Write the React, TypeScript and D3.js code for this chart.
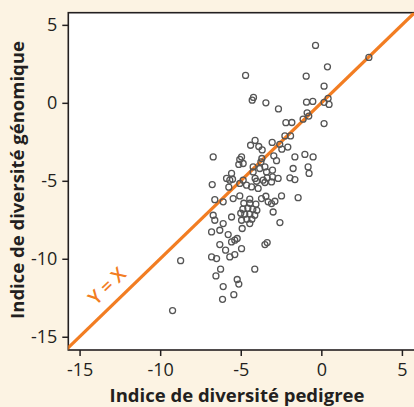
import React, { useEffect, useRef } from "react";
import * as d3 from "d3";

// pedigree diversity index (x) vs genomic diversity index (y)
const pedigree = [
  -0.36, 2.95, 0.38, -4.7, -0.94, 0.17, -4.21, -4.29, -3.44, -2.66, -0.92, -0.53, 0.17, 0.42, 0.48,
  -0.88, -0.78, -1.13, -2.2, -1.83, 0.17, -4.11, -4.39, -3.88, -3.67, -3.05, -2.58, -2.26, -1.91,
  -2.45, -2.08, -6.71, -4.95, -5.06, -5.12, -4.85, -3.69, -3.75, -2.95, -2.78, -1.64, -1.02, -0.51,
  -5.57, -5.88, -5.68, -5.51, -4.23, -4.23, -3.82, -3.5, -3.4, -3.03, -3.03, -1.75, -0.82, -0.76,
  -1.95, -1.64, -2.68, -3.09, -4.85, -5.06, -4.11, -4.02, -3.61, -3.36, -6.77, -5.74, -4.64, -4.33,
  -3.92, -3.5, -2.47, -1.44, -6.61, -6.09, -5.47, -5.06, -4.44, -3.71, -3.3, -2.88, -3.09, -2.99,
  -3.44, -4.81, -4.44, -4.06, -4.87, -4.56, -4.25, -4.0, -4.75, -4.44, -4.13, -4.62, -4.31, -5.0,
  -6.71, -6.61, -6.09, -5.57, -4.95, -4.91, -4.44, -2.57, -6.81, -6.3, -5.78, -5.57, -5.37, -5.22,
  -6.3, -5.94, -4.95, -3.5, -3.36, -6.81, -6.5, -5.68, -5.37, -8.73, -6.25, -6.54, -4.13, -5.22,
  -5.12, -6.09, -5.43, -6.13, -9.23,
];
const genomic = [
  3.68, 2.91, 2.31, 1.76, 1.71, 1.07, 0.35, 0.17, 0.0, -0.39, 0.04, 0.09, 0.03, 0.28, -0.1,
  -0.64, -0.85, -1.05, -1.27, -1.26, -1.33, -2.41, -2.72, -2.8, -3.02, -2.54, -2.66, -2.12, -2.12,
  -2.97, -2.84, -3.47, -3.47, -3.63, -3.95, -3.89, -3.57, -3.79, -3.4, -3.71, -3.47, -3.31, -3.47,
  -4.53, -4.85, -4.96, -4.9, -4.11, -4.43, -4.21, -4.11, -4.43, -4.32, -4.75, -4.21, -4.11, -4.53,
  -4.81, -4.92, -4.85, -5.07, -4.96, -5.17, -4.85, -5.03, -4.96, -4.81, -5.24, -5.41, -5.28, -5.39,
  -5.49, -5.11, -5.97, -6.08, -6.21, -6.35, -6.14, -5.97, -6.18, -6.14, -6.35, -6.31, -6.46, -7.0,
  -5.99, -6.44, -6.44, -6.5, -6.82, -6.76, -6.82, -6.89, -7.14, -7.14, -7.21, -7.46, -7.46, -7.08,
  -7.21, -7.53, -7.74, -7.32, -7.53, -8.06, -7.74, -7.68, -8.28, -8.17, -8.45, -8.92, -8.81, -8.7,
  -9.09, -9.45, -9.35, -9.09, -8.96, -9.88, -9.99, -9.88, -9.73, -10.12, -10.67, -11.1, -10.67, -11.33,
  -11.62, -11.78, -12.3, -12.6, -13.32,
];
const ticks = [-15, -10, -5, 0, 5];

const W = 414;
const H = 407;
const font = "'Open Sans', 'Noto Sans', sans-serif";
const orange = "#f27d22";
const ink = "#231f20";

const App = () => {
  const svgRef = useRef<SVGSVGElement>(null);

  useEffect(() => {
    const svg = d3.select(svgRef.current);
    svg.selectAll("*").remove();

    const x = d3.scaleLinear().domain([-15.7, 5.75]).range([68.3, 414]);
    const y = d3.scaleLinear().domain([-15.85, 5.78]).range([350, 12.7]);

    svg.append("rect").attr("width", W).attr("height", H).attr("fill", "#fcf3e3");

    svg
      .append("clipPath")
      .attr("id", "plot")
      .append("rect")
      .attr("x", x(-15.7))
      .attr("y", y(5.78))
      .attr("width", x(5.75) - x(-15.7))
      .attr("height", y(-15.85) - y(5.78));

    svg
      .append("rect")
      .attr("x", x(-15.7))
      .attr("y", y(5.78))
      .attr("width", x(5.75) - x(-15.7) + 5)
      .attr("height", y(-15.85) - y(5.78))
      .attr("fill", "#fff")
      .attr("stroke", ink)
      .attr("stroke-width", 1.6);

    const plot = svg.append("g").attr("clip-path", "url(#plot)");

    // Y = X reference line
    plot
      .append("line")
      .attr("x1", x(-16))
      .attr("y1", y(-16))
      .attr("x2", x(6))
      .attr("y2", y(6))
      .attr("stroke", orange)
      .attr("stroke-width", 3.2);

    plot
      .selectAll(".dot")
      .data(pedigree.map((d, i) => [d, genomic[i]]))
      .join("circle")
      .attr("class", "dot")
      .attr("cx", (d) => x(d[0]))
      .attr("cy", (d) => y(d[1]))
      .attr("r", 3)
      .attr("fill", "none")
      .attr("stroke", "#555")
      .attr("stroke-width", 1.3);

    const angle = (Math.atan2(y(0) - y(1), x(1) - x(0)) * 180) / Math.PI;
    svg
      .append("text")
      .attr("transform", `translate(107,286) rotate(${-angle})`)
      .attr("text-anchor", "middle")
      .attr("dy", "0.35em")
      .attr("font-family", font)
      .attr("font-weight", 600)
      .attr("font-size", 19)
      .attr("fill", orange)
      .text("Y = X");

    const xAxis = d3
      .axisBottom(x)
      .tickValues(ticks)
      .tickSize(6)
      .tickPadding(7)
      .tickFormat((d) => String(d));
    const gx = svg.append("g").attr("transform", `translate(0,${y(-15.85)})`).call(xAxis);

    const yAxis = d3
      .axisLeft(y)
      .tickValues(ticks)
      .tickSize(6)
      .tickPadding(5)
      .tickFormat((d) => String(d));
    const gy = svg.append("g").attr("transform", `translate(${x(-15.7)},0)`).call(yAxis);

    [gx, gy].forEach((g) => {
      g.select(".domain").remove();
      g.selectAll("line").attr("stroke", ink).attr("stroke-width", 1.5);
      g.selectAll("text")
        .attr("font-family", font)
        .attr("font-size", 18)
        .attr("fill", ink);
    });

    svg
      .append("text")
      .attr("x", 237)
      .attr("y", 402)
      .attr("text-anchor", "middle")
      .attr("font-family", font)
      .attr("font-weight", "bold")
      .attr("font-size", 18.5)
      .attr("fill", ink)
      .text("Indice de diversité pedigree");

    svg
      .append("text")
      .attr("transform", `translate(24,180) rotate(-90)`)
      .attr("text-anchor", "middle")
      .attr("font-family", font)
      .attr("font-weight", "bold")
      .attr("font-size", 18.5)
      .attr("fill", ink)
      .text("Indice de diversité génomique");
  }, []);

  return (
    <svg
      ref={svgRef}
      width={W}
      height={H}
      style={{ position: "absolute", left: 0, top: 0, display: "block" }}
    />
  );
};

export default App;
